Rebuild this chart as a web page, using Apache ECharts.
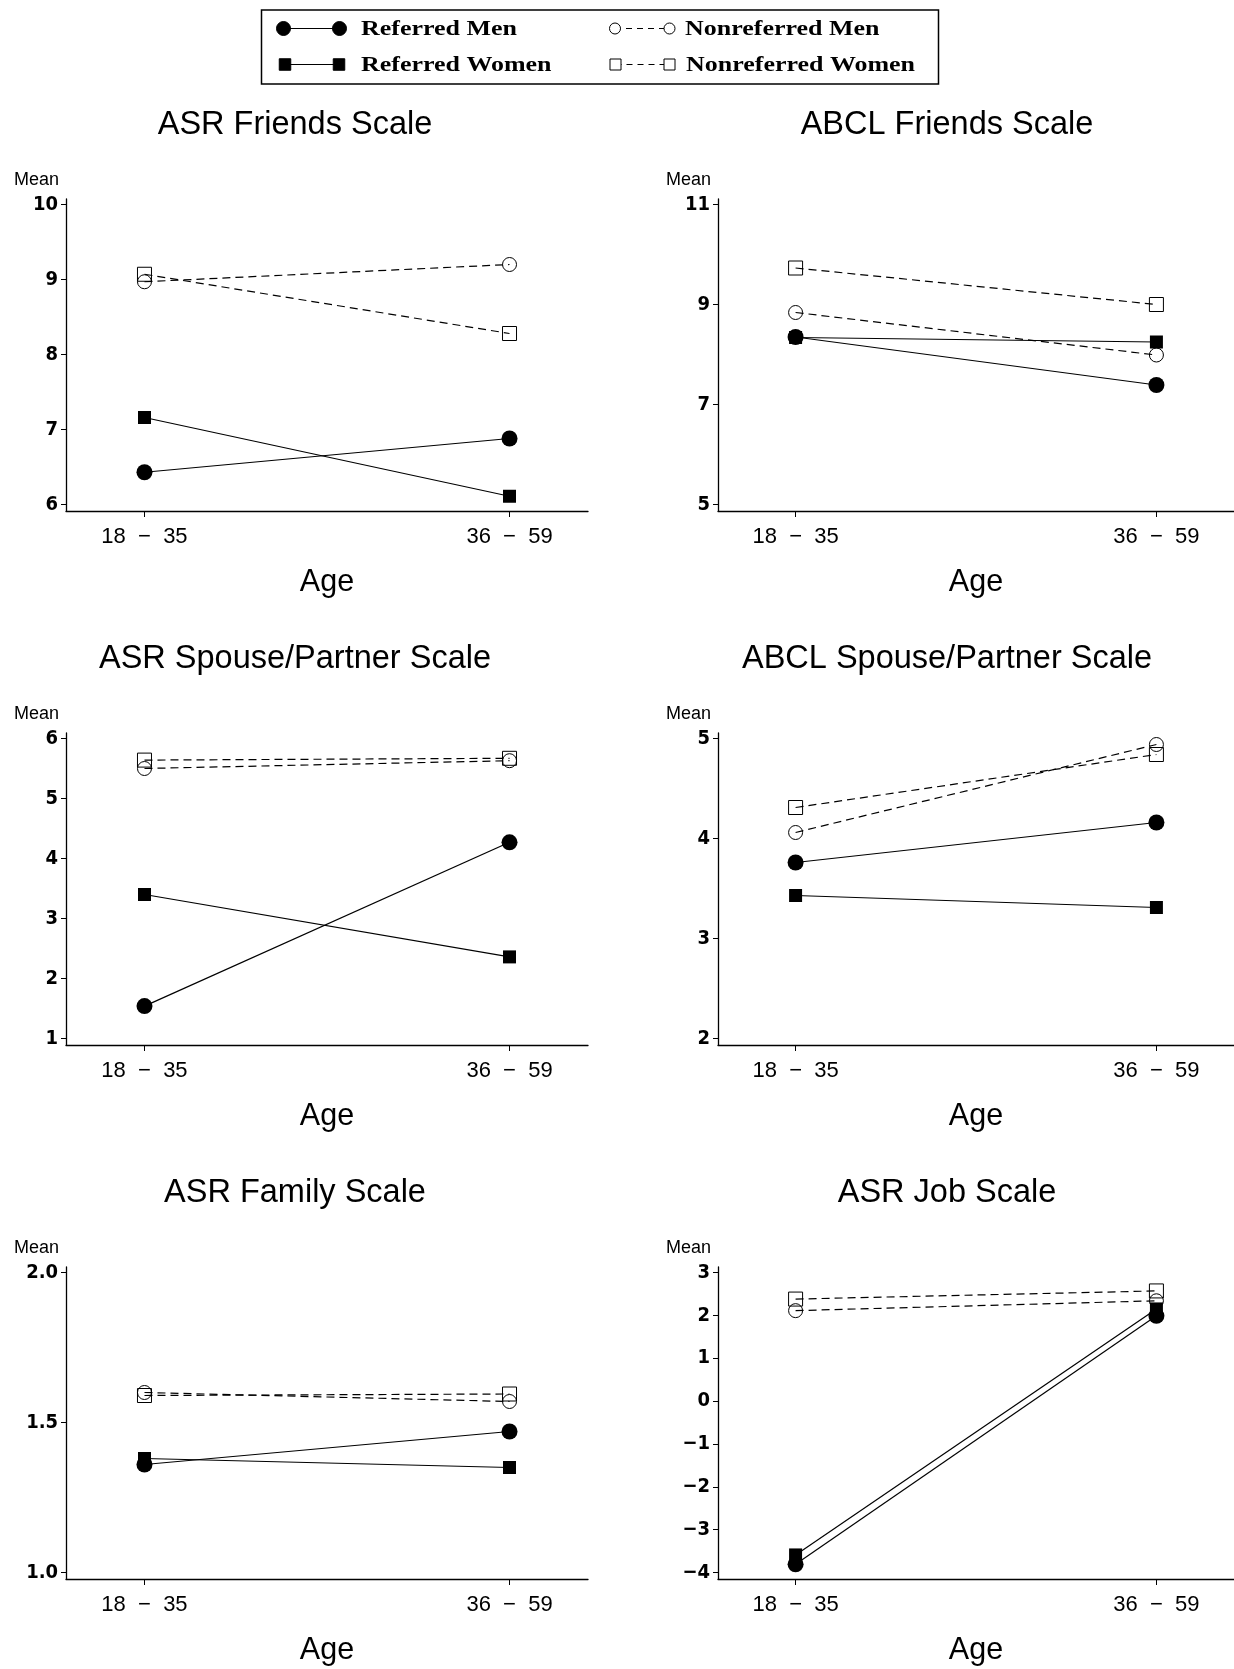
<!DOCTYPE html>
<html>
<head>
<meta charset="utf-8">
<title>Mean scale scores by age group</title>
<script src="https://cdn.jsdelivr.net/npm/echarts@6/dist/echarts.min.js"></script>
<style>
    html, body { margin: 0; padding: 0; background: #fff; }
    #chart { width: 1234px; height: 1669px; }
</style>
</head>
<body>
<div id="chart"></div>
<script>
    // data
    const ageGroups = ['18  −  35', '36  −  59'];
    const groupNames = ['Referred Men', 'Referred Women', 'Nonreferred Men', 'Nonreferred Women'];
    const panelTitles = ['ASR Friends Scale', 'ABCL Friends Scale', 'ASR Spouse/Partner Scale',
        'ABCL Spouse/Partner Scale', 'ASR Family Scale', 'ASR Job Scale'];
    const yTicks = [
        [6, 7, 8, 9, 10],
        [5, 7, 9, 11],
        [1, 2, 3, 4, 5, 6],
        [2, 3, 4, 5],
        [1.0, 1.5, 2.0],
        [-4, -3, -2, -1, 0, 1, 2, 3]
    ];
    // one [18-35, 36-59] pair per panel, same order as panelTitles
    const referredMen = [[6.43, 6.88], [8.35, 7.39], [1.54, 4.27], [3.76, 4.16], [1.36, 1.47], [-3.81, 1.99]];
    const referredWomen = [[7.16, 6.11], [8.34, 8.25], [3.40, 2.36], [3.43, 3.31], [1.38, 1.35], [-3.59, 2.15]];
    const nonreferredMen = [[8.97, 9.20], [8.84, 7.99], [5.50, 5.63], [4.06, 4.94], [1.60, 1.57], [2.11, 2.34]];
    const nonreferredWomen = [[9.07, 8.28], [9.73, 9.00], [5.64, 5.67], [4.31, 4.84], [1.59, 1.595], [2.38, 2.57]];

    const groupValues = [referredMen, referredWomen, nonreferredMen, nonreferredWomen];

    const SANS = '"Liberation Sans", Arial, sans-serif';
    const NARROW = '"Liberation Sans Narrow", "Arial Narrow", "DejaVu Sans Condensed", sans-serif';
    const SERIF = '"Liberation Serif", "Times New Roman", serif';
    const colX = [66, 718];
    const rowY = [199, 733, 1267];
    const gridW = 522, gridH = 312;

    const groupStyles = [
        {symbol: 'circle', size: 16, filled: true, dashed: false},
        {symbol: 'rect', size: 13, filled: true, dashed: false},
        {symbol: 'circle', size: 14, filled: false, dashed: true},
        {symbol: 'rect', size: 14, filled: false, dashed: true}
    ];

    let grids = [], xAxes = [], yAxes = [], titles = [], series = []

    panelTitles.forEach((name, i) => {
        let left = colX[i % 2]
        let top = rowY[Math.floor(i / 2)]
        let ticks = yTicks[i]
        let lo = ticks[0], hi = ticks[ticks.length - 1]
        let unit = (hi - lo) / 300

        grids.push({left: left, top: top, width: gridW, height: gridH})

        titles.push({
            text: name,
            left: left + 229,
            top: top - 74,
            textAlign: 'center',
            textVerticalAlign: 'middle',
            padding: 0,
            textStyle: {fontFamily: SANS, fontSize: 32.5, fontWeight: 'normal', color: '#000'}
        })

        xAxes.push({
            type: 'value',
            gridIndex: i,
            min: -0.215,
            max: 1.215,
            splitLine: {show: false},
            axisLine: {show: true, onZero: false, lineStyle: {color: '#000', width: 1.3}},
            axisTick: {show: true, customValues: [0, 1], length: 6, lineStyle: {color: '#000'}},
            axisLabel: {
                customValues: [0, 1],
                formatter: v => ageGroups[Math.round(v)],
                fontFamily: SANS, fontSize: 22, color: '#000', margin: 15
            },
            name: 'Age',
            nameLocation: 'middle',
            nameGap: 56,
            nameTextStyle: {fontFamily: SANS, fontSize: 30.5, color: '#000'}
        })

        yAxes.push({
            type: 'value',
            gridIndex: i,
            min: lo - 6.5 * unit,
            max: hi + 5.5 * unit,
            splitLine: {show: false},
            axisLine: {show: true, onZero: false, lineStyle: {color: '#000', width: 1.3}},
            axisTick: {show: true, customValues: ticks, length: 5, lineStyle: {color: '#000'}},
            axisLabel: {
                customValues: ticks,
                formatter: v => (i === 4 ? v.toFixed(1) : String(Math.round(v))).replace('-', '−'),
                fontFamily: NARROW, fontSize: 20, fontWeight: 'bold', color: '#000', margin: 8
            },
            name: 'Mean',
            nameLocation: 'end',
            nameGap: 10,
            nameTextStyle: {fontFamily: SANS, fontSize: 18, color: '#000', align: 'right', padding: [0, 7, 0, 0]}
        })

        groupValues.forEach((vals, g) => {
            let st = groupStyles[g]
            series.push({
                name: groupNames[g],
                type: 'line',
                xAxisIndex: i,
                yAxisIndex: i,
                data: vals[i].map((v, k) => [k, v]),
                symbol: st.symbol,
                symbolSize: st.size,
                showAllSymbol: true,
                itemStyle: st.filled
                    ? {color: '#000'}
                    : {color: 'rgba(0,0,0,0)', borderColor: '#000', borderWidth: 1},
                lineStyle: {color: '#000', width: 1.2, type: st.dashed ? [8, 5] : 'solid'},
                z: st.filled ? 3 : 2
            })
        })
    })

    // legend box drawn by hand: marker - line - marker, like the original
    let legend = [{
        type: 'rect',
        shape: {x: 261.5, y: 10, width: 677, height: 74},
        style: {fill: 'none', stroke: '#000', lineWidth: 1.5}
    }]
    let legendRows = [
        {x0: 283.5, x1: 339.5, y: 28.5, tx: 361},
        {x0: 285, x1: 339, y: 64.5, tx: 361},
        {x0: 615, x1: 669.5, y: 28.5, tx: 685},
        {x0: 615.5, x1: 669.5, y: 64.5, tx: 686}
    ]
    legendRows.forEach((r, g) => {
        let st = groupStyles[g]
        legend.push({
            type: 'line',
            shape: {x1: r.x0, y1: r.y, x2: r.x1, y2: r.y},
            style: {stroke: '#000', lineWidth: 1.2, lineDash: st.dashed ? [6, 5] : null}
        })
        let fill = st.filled ? '#000' : '#fff'
        let size = st.filled ? (st.symbol === 'circle' ? 14 : 11.5) : 11
        ;[r.x0, r.x1].forEach(cx => {
            if (st.symbol === 'circle') {
                legend.push({
                    type: 'circle',
                    shape: {cx: cx, cy: r.y, r: size / 2},
                    style: {fill: fill, stroke: '#000', lineWidth: 1}
                })
            } else {
                legend.push({
                    type: 'rect',
                    shape: {x: cx - size / 2, y: r.y - size / 2, width: size, height: size},
                    style: {fill: fill, stroke: '#000', lineWidth: 1}
                })
            }
        })
        legend.push({
            type: 'text',
            x: r.tx,
            y: r.y + 1,
            scaleX: 1.18,
            style: {
                text: groupNames[g],
                font: 'bold 22px ' + SERIF,
                fill: '#000',
                align: 'left',
                verticalAlign: 'middle'
            }
        })
    })

    let myChart = echarts.init(document.getElementById('chart'))
    myChart.setOption({
        animation: false,
        backgroundColor: '#fff',
        title: titles,
        grid: grids,
        xAxis: xAxes,
        yAxis: yAxes,
        series: series,
        graphic: legend
    })
</script>
</body>
</html>
